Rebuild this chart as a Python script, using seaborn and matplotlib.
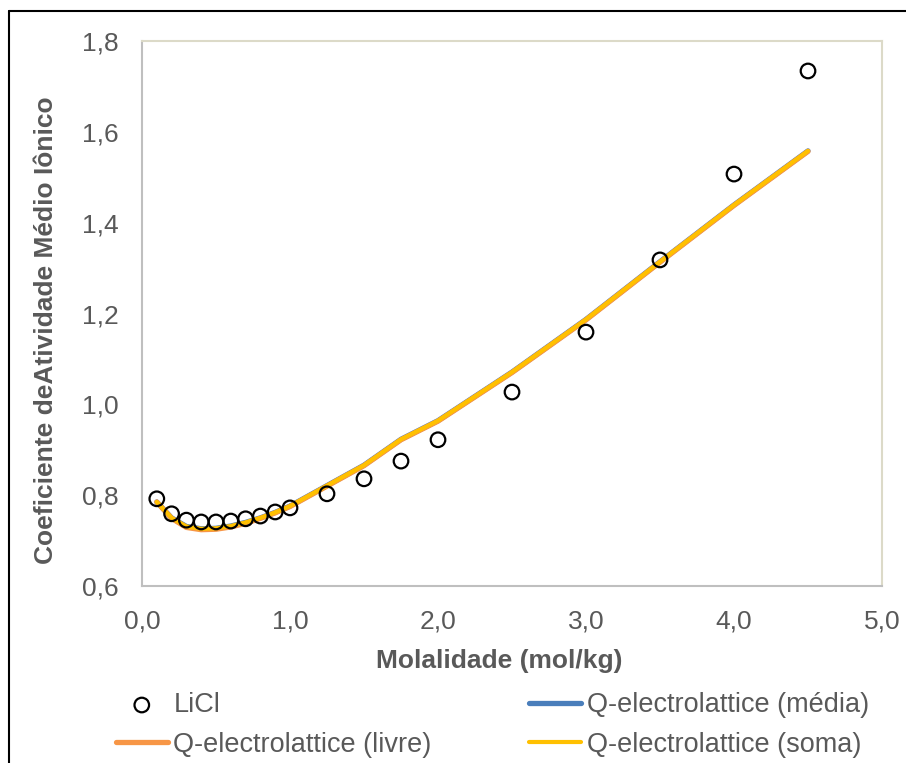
import matplotlib
matplotlib.use("Agg")
import matplotlib.pyplot as plt
from matplotlib.lines import Line2D
from matplotlib.ticker import FuncFormatter
import seaborn as sns
import pandas as pd

# Experimental mean ionic activity coefficients of LiCl
molality_exp = [0.1, 0.2, 0.3, 0.4, 0.5, 0.6, 0.7, 0.8, 0.9, 1.0,
                1.25, 1.5, 1.75, 2.0, 2.5, 3.0, 3.5, 4.0, 4.5]
gamma_exp = [0.792, 0.759, 0.745, 0.741, 0.741, 0.743, 0.748, 0.754, 0.763, 0.772,
             0.803, 0.836, 0.875, 0.922, 1.027, 1.159, 1.318, 1.507, 1.734]

# Q-electrolattice model curves
molality_model = [0.1, 0.2, 0.3, 0.4, 0.5, 0.6, 0.7, 0.8, 0.9, 1.0,
                  1.25, 1.5, 1.75, 2.0, 2.5, 3.0, 3.5, 4.0, 4.5]
gamma_media = [0.785, 0.750, 0.731, 0.726, 0.727, 0.732, 0.740, 0.750, 0.762, 0.776,
               0.821, 0.866, 0.923, 0.964, 1.071, 1.187, 1.314, 1.439, 1.558]
gamma_livre = [0.785, 0.749, 0.729, 0.724, 0.725, 0.730, 0.738, 0.749, 0.761, 0.775,
               0.820, 0.865, 0.922, 0.963, 1.070, 1.186, 1.313, 1.438, 1.557]
gamma_soma = [0.785, 0.750, 0.731, 0.726, 0.727, 0.732, 0.740, 0.750, 0.762, 0.776,
              0.821, 0.866, 0.923, 0.964, 1.071, 1.187, 1.314, 1.439, 1.558]

label_exp = "LiCl"
label_media = "Q-electrolattice (média)"
label_livre = "Q-electrolattice (livre)"
label_soma = "Q-electrolattice (soma)"

x_ticks = [0.0, 1.0, 2.0, 3.0, 4.0, 5.0]
y_ticks = [0.6, 0.8, 1.0, 1.2, 1.4, 1.6, 1.8]

x_title = "Molalidade (mol/kg)"
y_title = "Coeficiente deAtividade Médio Iônico"

sns.set_theme(style="white")
plt.rcParams["font.family"] = ["Liberation Sans", "DejaVu Sans"]

TXT = "#595959"

fig = plt.figure(figsize=(9.06, 7.63), dpi=100, facecolor="white")
ax = fig.add_axes([142 / 906, 1 - 586 / 763, (882 - 142) / 906, (586 - 41) / 763])

df_model = pd.DataFrame({"m": molality_model, "media": gamma_media,
                         "livre": gamma_livre, "soma": gamma_soma})
df_exp = pd.DataFrame({"m": molality_exp, "g": gamma_exp})

sns.lineplot(data=df_model, x="m", y="media", ax=ax, color="#4a7ebb",
             linewidth=3.8, label=label_media, solid_capstyle="round", zorder=2)
sns.lineplot(data=df_model, x="m", y="livre", ax=ax, color="#f79646",
             linewidth=3.8, label=label_livre, solid_capstyle="round", zorder=3)
sns.lineplot(data=df_model, x="m", y="soma", ax=ax, color="#ffc000",
             linewidth=3.0, label=label_soma, solid_capstyle="round", zorder=4)
sns.scatterplot(data=df_exp, x="m", y="g", ax=ax, marker="o", s=110,
                facecolor="none", edgecolor="black", linewidth=1.6,
                label=label_exp, zorder=5)

ax.set_xlim(x_ticks[0], x_ticks[-1])
ax.set_ylim(y_ticks[0], y_ticks[-1])
ax.set_xticks(x_ticks)
ax.set_yticks(y_ticks)
fmt = FuncFormatter(lambda v, p: f"{v:.1f}".replace(".", ","))
ax.xaxis.set_major_formatter(fmt)
ax.yaxis.set_major_formatter(fmt)
ax.tick_params(axis="both", length=0, labelsize=19, colors=TXT)
ax.tick_params(axis="x", pad=17)
ax.tick_params(axis="y", pad=17)

ax.spines["left"].set_color("#bfbfbf")
ax.spines["bottom"].set_color("#bfbfbf")
ax.spines["top"].set_color("#dcdac8")
ax.spines["right"].set_color("#dcdac8")
for s in ax.spines.values():
    s.set_linewidth(1.5)
    s.set_visible(True)

ax.set_xlabel(x_title, fontsize=19, fontweight="bold", color=TXT, labelpad=9)
ax.xaxis.set_label_coords(0.483, -0.115)
ax.set_ylabel(y_title, fontsize=19, fontweight="bold", color=TXT)
ax.yaxis.set_label_coords(-0.114, 0.47)

handles, labels = ax.get_legend_handles_labels()
order = [label_exp, label_livre, label_media, label_soma]
hmap = dict(zip(labels, handles))
leg = ax.legend([hmap[k] for k in order], order, ncol=2, frameon=False,
                loc="upper left", bbox_to_anchor=(-0.068, -0.15),
                fontsize=19.5, handlelength=1.9, handletextpad=0.22,
                columnspacing=3.6, labelspacing=0.5)
for t in leg.get_texts():
    t.set_color(TXT)

# outer chart frame
fig.add_artist(Line2D([9 / 906, 9 / 906], [0, 1 - 11 / 763], color="black", lw=1.5))
fig.add_artist(Line2D([9 / 906, 1], [1 - 11 / 763, 1 - 11 / 763], color="black", lw=1.5))

fig.savefig("out.png", dpi=100, facecolor="white")
